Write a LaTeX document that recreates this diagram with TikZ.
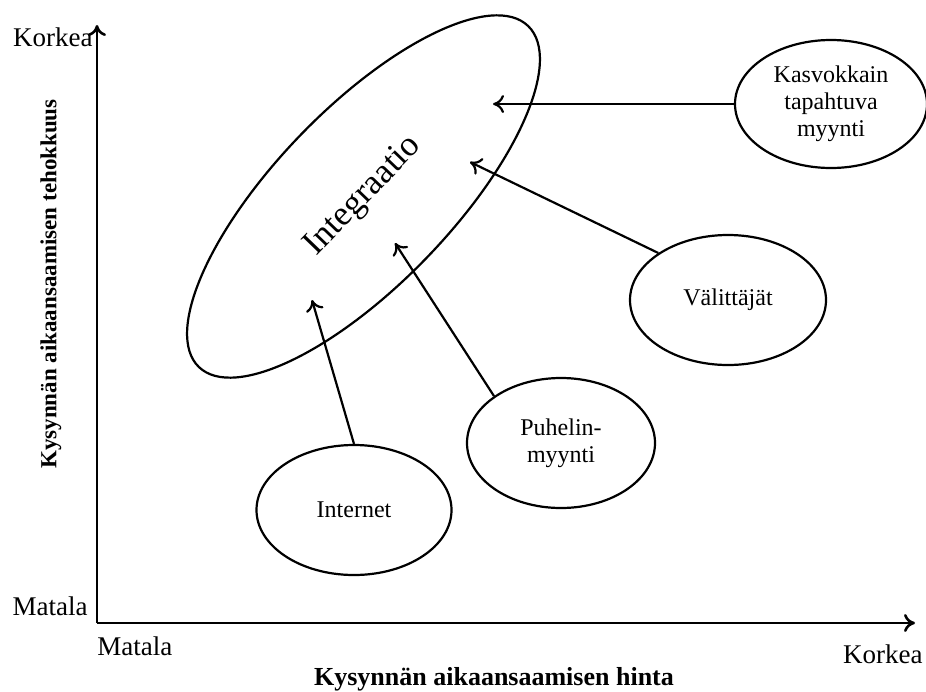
\documentclass[tikz,border=0pt]{standalone}
\usepackage{fontspec}
\setmainfont{Liberation Serif}
\usepackage{tikz}
\usetikzlibrary{shapes.geometric,arrows.meta}

\tikzset{
  channel/.style={ellipse, draw, line width=1.1pt, align=center, inner sep=0pt,
    font=\fontsize{12}{13.5}\selectfont},
  axislabel/.style={font=\fontsize{13.5}{16}\selectfont, inner sep=0pt},
  flow/.style={draw, line width=1.1pt, -{To[length=5.5pt,width=9pt]}}
}

\begin{document}
\begin{tikzpicture}[x=0.5pt, y=-0.5pt]
    \useasboundingbox (0,0) rectangle (926,691);
    % Axes
    \coordinate (O) at (97,623);
    \coordinate (ytip) at (97,25);
    \coordinate (xtip) at (915,623);
    \path [flow, line width=1.3pt] (O) -- (ytip);
    \path [flow, line width=1.3pt] (O) -- (xtip);
    \node [axislabel, anchor=east] (yhigh) at (93,37) {Korkea};
    \node [axislabel, anchor=east] (ylow) at (88,606) {Matala};
    \node [axislabel, anchor=west] (xlow) at (97,646) {Matala};
    \node [axislabel, anchor=east] (xhigh) at (923,654) {Korkea};
    \node [font=\fontsize{13}{15}\bfseries\selectfont] (xtitle) at (494,679) {Kysynnän aikaansaamisen hinta};
    \node [rotate=90, font=\fontsize{11.5}{14}\bfseries\selectfont] (ytitle) at (51,284) {Kysynnän aikaansaamisen tehokkuus};
    % Place nodes
    \node [ellipse, draw, line width=1.1pt, rotate=46, minimum width=237pt, minimum height=88pt,
      inner sep=0pt, font=\fontsize{17.5}{20}\selectfont] (integ) at (363.5,196.5) {Integraatio};
    \node [channel, minimum width=96pt, minimum height=64pt] (kasvokkain) at (831,104) {Kasvokkain\\tapahtuva\\myynti};
    \node [channel, minimum width=98pt, minimum height=65pt] (valittajat) at (728,300) {Välittäjät};
    \node [channel, minimum width=94pt, minimum height=65pt] (puhelin) at (561,443) {Puhelin-\\myynti};
    \node [channel, minimum width=97.5pt, minimum height=65pt] (internet) at (354,510) {Internet};
    % Arrow ends inside Integraatio
    \coordinate (tipK) at (493,104);
    \coordinate (tipV) at (470,162);
    \coordinate (tipP) at (395,243);
    \coordinate (tipI) at (312,300);
    % Draw arrows
    \path [flow] (kasvokkain.west) -- (tipK);
    \path [flow] (valittajat.146) -- (tipV);
    \path [flow] (puhelin.145) -- (tipP);
    \path [flow] (internet.north) -- (tipI);
\end{tikzpicture}
\end{document}
